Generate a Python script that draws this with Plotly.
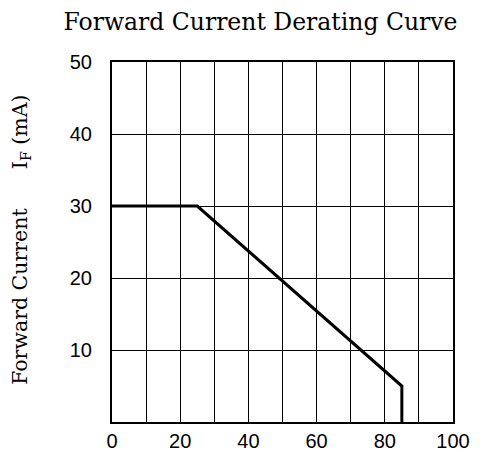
import plotly.graph_objects as go

# Data
temperature = [0, 25, 85, 85]          # ambient temperature
forward_current = [30, 30, 5, 0]       # forward current IF (mA)

x_tick_vals = [0, 20, 40, 60, 80, 100]
x_tick_text = ["0", "20", "40", "60", "80", "100"]
y_tick_vals = [10, 20, 30, 40, 50]
y_tick_text = ["10", "20", "30", "40", "50"]

title_text = "Forward Current Derating Curve"
y_title_text = "Forward Current\u00a0\u00a0\u00a0\u00a0\u00a0 I<sub>F</sub> (mA)"

tick_font = dict(family="Liberation Sans, Arial, sans-serif", size=20, color="black")
serif = "DejaVu Serif, Liberation Serif, serif"

fig = go.Figure()
fig.add_trace(go.Scatter(
    x=temperature, y=forward_current, mode="lines",
    line=dict(color="black", width=3), showlegend=False, hoverinfo="skip",
))

fig.update_layout(
    width=489, height=453,
    margin=dict(l=112, r=36, t=62, b=31, autoexpand=False),
    paper_bgcolor="white", plot_bgcolor="white",
    title=dict(text=title_text, font=dict(family=serif, size=23.5, color="black"),
               x=260.5 / 489, xref="container", xanchor="center",
               y=1 - 22 / 453, yref="container", yanchor="middle"),
    xaxis=dict(range=[0, 100], tickvals=x_tick_vals, ticktext=x_tick_text,
               showgrid=True, gridcolor="black", gridwidth=1,
               minor=dict(dtick=10, tick0=0, showgrid=True, gridcolor="black",
                          gridwidth=1, ticks=""),
               showline=True, linecolor="black", linewidth=2, mirror=True,
               zeroline=False, ticks="", tickfont=tick_font, ticklabelstandoff=0,
               automargin=False),
    yaxis=dict(range=[0, 50], tickvals=y_tick_vals, ticktext=y_tick_text,
               showgrid=True, gridcolor="black", gridwidth=1,
               showline=True, linecolor="black", linewidth=2, mirror=True,
               zeroline=False, ticks="", tickfont=tick_font, ticklabelstandoff=14,
               automargin=False),
    annotations=[dict(text=y_title_text, xref="paper", yref="paper",
                      x=(21 - 112) / 341, y=0.506, textangle=-90,
                      showarrow=False, xanchor="center", yanchor="middle",
                      font=dict(family=serif, size=20.5, color="black"))],
)

fig.write_html("out.html", config={"displayModeBar": False},
               post_script="document.body.style.margin='0';document.body.style.overflow='hidden';")
